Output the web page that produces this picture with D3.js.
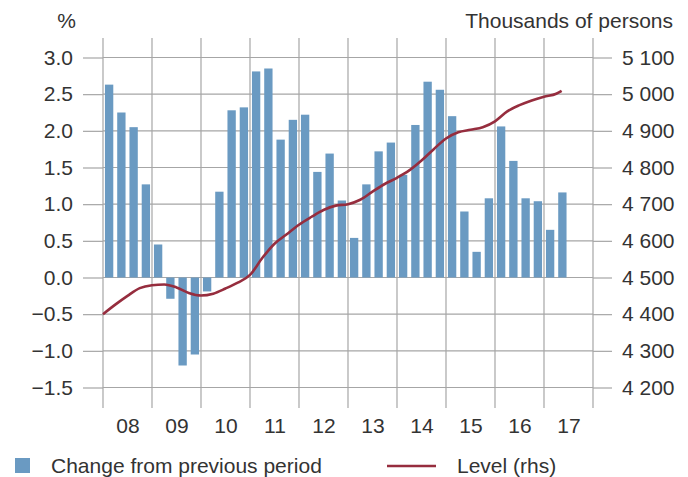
<!DOCTYPE html>
<html>
<head>
<meta charset="utf-8">
<script src="https://cdn.jsdelivr.net/npm/d3@7"></script>
<style>
  html, body { margin: 0; padding: 0; background: #fff; }
  svg { display: block; font-family: "Liberation Sans", Arial, sans-serif; }
  .axis text { font-size: 21px; fill: #333; font-family: "Liberation Sans", Arial, sans-serif; }
  .axis path { display: none; }
</style>
</head>
<body>
<svg id="chart" width="688" height="477"></svg>
<script>
// ---------- data ----------
const quarters = [
  "2008Q1","2008Q2","2008Q3","2008Q4",
  "2009Q1","2009Q2","2009Q3","2009Q4",
  "2010Q1","2010Q2","2010Q3","2010Q4",
  "2011Q1","2011Q2","2011Q3","2011Q4",
  "2012Q1","2012Q2","2012Q3","2012Q4",
  "2013Q1","2013Q2","2013Q3","2013Q4",
  "2014Q1","2014Q2","2014Q3","2014Q4",
  "2015Q1","2015Q2","2015Q3","2015Q4",
  "2016Q1","2016Q2","2016Q3","2016Q4",
  "2017Q1","2017Q2"
];
const changeValues = [
  2.63, 2.25, 2.05, 1.27,
  0.45, -0.29, -1.20, -1.05,
  -0.19, 1.17, 2.28, 2.32,
  2.81, 2.85, 1.88, 2.15,
  2.22, 1.44, 1.69, 1.05,
  0.54, 1.27, 1.72, 1.84,
  1.40, 2.08, 2.67, 2.56,
  2.20, 0.90, 0.35, 1.08,
  2.06, 1.59, 1.08, 1.04,
  0.65, 1.16
];
// Level (rhs), thousands of persons, at fractional years
const levelTimes = [
  2008.00, 2008.25, 2008.50, 2008.75,
  2009.00, 2009.25, 2009.50, 2009.75,
  2010.00, 2010.25, 2010.50, 2010.75,
  2011.00, 2011.25, 2011.50, 2011.75,
  2012.00, 2012.25, 2012.50, 2012.75,
  2013.00, 2013.25, 2013.50, 2013.75,
  2014.00, 2014.25, 2014.50, 2014.75,
  2015.00, 2015.25, 2015.50, 2015.75,
  2016.00, 2016.25, 2016.50, 2016.75,
  2017.00, 2017.25, 2017.36
];
const levelValues = [
  4400, 4426, 4450, 4471,
  4479, 4481, 4473, 4458,
  4451, 4456, 4470, 4486,
  4507, 4553, 4592, 4618,
  4644, 4665, 4684, 4696,
  4700, 4712, 4734, 4755,
  4772, 4792, 4819, 4850,
  4879, 4896, 4903, 4910,
  4926, 4953, 4970, 4983,
  4993, 5001, 5009
];
const leftTicks = [-1.5, -1.0, -0.5, 0.0, 0.5, 1.0, 1.5, 2.0, 2.5, 3.0];
const rightTicks = [4200, 4300, 4400, 4500, 4600, 4700, 4800, 4900, 5000, 5100];
const yearBoundaries = [2008, 2009, 2010, 2011, 2012, 2013, 2014, 2015, 2016, 2017, 2018];
const yearLabels = ["08", "09", "10", "11", "12", "13", "14", "15", "16", "17"];
const leftUnit = "%";
const rightUnit = "Thousands of persons";
const legendBars = "Change from previous period";
const legendLine = "Level (rhs)";

// ---------- layout ----------
const plotLeft = 103, plotRight = 593, plotTop = 57.5, plotBottom = 387.5;
const barColor = "#6a9ac2", lineColor = "#962d3e", gridColor = "#a6a6a6", textColor = "#333";

const svg = d3.select("#chart");

const x = d3.scaleLinear().domain([2008, 2018]).range([plotLeft, plotRight]);
const yL = d3.scaleLinear().domain([-1.5, 3.0]).range([plotBottom, plotTop]);
const yR = d3.scaleLinear().domain([4200, 5100]).range([plotBottom, plotTop]);

const fmtL = v => (v < 0 ? "\u2212" : "") + Math.abs(v).toFixed(1);
const fmtR = v => { const s = String(v); return s.slice(0, s.length - 3) + " " + s.slice(-3); };

// grid: horizontal
svg.append("g").selectAll("line").data(leftTicks).join("line")
  .attr("x1", plotLeft).attr("x2", plotRight)
  .attr("y1", d => yL(d)).attr("y2", d => yL(d))
  .attr("stroke", gridColor).attr("stroke-width", 1.2);

// grid: vertical year lines
svg.append("g").selectAll("line").data(yearBoundaries).join("line")
  .attr("x1", d => x(d)).attr("x2", d => x(d))
  .attr("y1", 38).attr("y2", 408)
  .attr("stroke", gridColor).attr("stroke-width", 1.2);

// axes
const axL = svg.append("g").attr("class", "axis")
  .attr("transform", `translate(${plotLeft},0)`)
  .call(d3.axisLeft(yL).tickValues(leftTicks).tickSize(20).tickPadding(10).tickFormat(fmtL));
axL.selectAll(".tick line").attr("stroke", gridColor).attr("stroke-width", 1.2);

const axR = svg.append("g").attr("class", "axis")
  .attr("transform", `translate(${plotRight},0)`)
  .call(d3.axisRight(yR).tickValues(rightTicks).tickSize(19).tickPadding(10).tickFormat(fmtR));
axR.selectAll(".tick line").attr("stroke", gridColor).attr("stroke-width", 1.2);

const midYears = yearLabels.map((l, i) => yearBoundaries[i] + 0.5);
const axB = svg.append("g").attr("class", "axis")
  .attr("transform", `translate(0,${plotBottom})`)
  .call(d3.axisBottom(x).tickValues(midYears).tickSize(0).tickPadding(30)
    .tickFormat((d, i) => yearLabels[i]));
axB.selectAll(".tick text").attr("dy", 0).attr("y", 45.5);

// bars
const qx = q => +q.slice(0, 4) + (+q.slice(5) - 1) / 4 + 0.125;
const barW = (x(2008.25) - x(2008)) * 0.68;
svg.append("g").selectAll("rect").data(quarters).join("rect")
  .attr("x", (q) => x(qx(q)) - barW / 2)
  .attr("width", barW)
  .attr("y", (q, i) => yL(Math.max(0, changeValues[i])))
  .attr("height", (q, i) => Math.abs(yL(changeValues[i]) - yL(0)))
  .attr("fill", barColor);

// line
const lineGen = d3.line()
  .x((d, i) => x(levelTimes[i]))
  .y(d => yR(d))
  .curve(d3.curveMonotoneX);
svg.append("path").datum(levelValues)
  .attr("d", lineGen)
  .attr("fill", "none")
  .attr("stroke", lineColor)
  .attr("stroke-width", 2.6)
  .attr("stroke-linejoin", "round");

// unit labels
svg.append("text").attr("x", 76).attr("y", 28).attr("text-anchor", "end")
  .attr("font-size", 21).attr("fill", textColor).text(leftUnit);
svg.append("text").attr("x", 673).attr("y", 28).attr("text-anchor", "end")
  .attr("font-size", 21).attr("fill", textColor).text(rightUnit);

// legend
svg.append("rect").attr("x", 15).attr("y", 458).attr("width", 15).attr("height", 15).attr("fill", barColor);
svg.append("text").attr("x", 51).attr("y", 473).attr("font-size", 21).attr("fill", textColor).text(legendBars);
svg.append("line").attr("x1", 387).attr("x2", 436).attr("y1", 466).attr("y2", 466)
  .attr("stroke", lineColor).attr("stroke-width", 2.6);
svg.append("text").attr("x", 457).attr("y", 473).attr("font-size", 21).attr("fill", textColor).text(legendLine);
</script>
</body>
</html>
